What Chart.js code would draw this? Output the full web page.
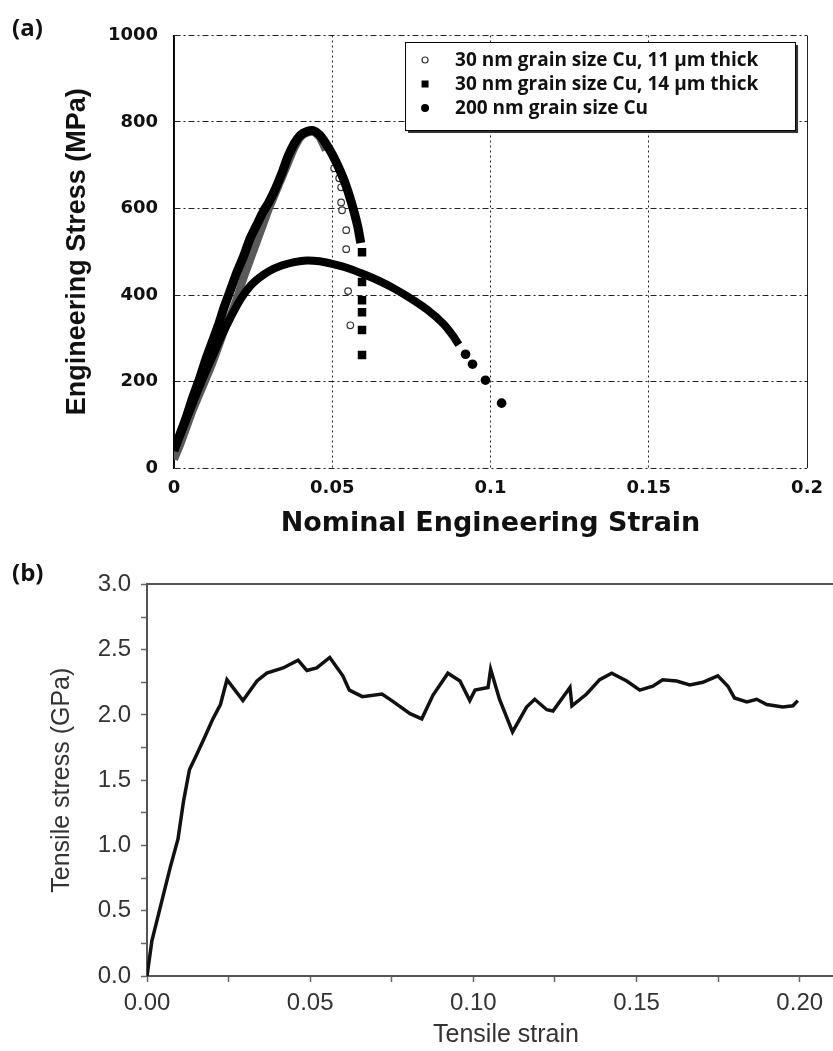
<!DOCTYPE html>
<html>
<head>
<meta charset="utf-8">
<script src="https://cdn.jsdelivr.net/npm/chart.js@4.4.1/dist/chart.umd.min.js"></script>
<style>
  body { margin: 0; background: #fff; width: 833px; height: 1051px; position: relative; overflow: hidden; }
  canvas { position: absolute; left: 0; }
  #chartA { top: 0; }
  #chartB { top: 560px; }
  .panel { position: absolute; font-family: "Open Sans", sans-serif; font-weight: 700; font-size: 24px; line-height: 1; color: #111; z-index: 2; }
</style>
</head>
<body>
<canvas id="chartA" width="833" height="545"></canvas>
<!-- panel (b) is cropped on the right in the original, so its canvas runs past the page edge -->
<canvas id="chartB" width="870" height="491"></canvas>
<div class="panel" style="left:12px;top:15px">(a)</div>
<div class="panel" style="left:12px;top:560px">(b)</div>
<script>
// ---- panel (a): engineering stress vs nominal strain ----
const seriesLabels = ['30 nm grain size Cu, 11 \u00b5m thick', '30 nm grain size Cu, 14 \u00b5m thick', '200 nm grain size Cu'];

const strain11 = [0, 0.002, 0.004, 0.006, 0.008, 0.010, 0.012, 0.014, 0.016, 0.018, 0.020, 0.022, 0.024, 0.026, 0.028, 0.030, 0.032, 0.034, 0.036, 0.038, 0.040, 0.042, 0.044, 0.046, 0.048,
                  0.0506, 0.0522, 0.0528, 0.0528, 0.0531, 0.0544, 0.0544, 0.0550, 0.0557];
const stress11 = [20, 55, 95, 135, 170, 205, 240, 280, 320, 355, 395, 440, 480, 520, 560, 600, 635, 670, 705, 740, 765, 775, 778, 765, 735,
                  693, 670, 649, 614, 596, 550, 506, 409, 330];
const lastDense11 = 24;

const strain14 = [0, 0.002, 0.004, 0.006, 0.008, 0.010, 0.012, 0.014, 0.016, 0.018, 0.020, 0.022, 0.024, 0.026, 0.028, 0.030, 0.032, 0.034, 0.036, 0.038, 0.040, 0.042, 0.044, 0.046, 0.048, 0.050, 0.052, 0.054, 0.056, 0.058, 0.059,
                  0.0594, 0.0594, 0.0594, 0.0594, 0.0594, 0.0594];
const stress14 = [40, 80, 120, 165, 205, 250, 290, 330, 375, 415, 455, 490, 530, 560, 590, 615, 645, 680, 720, 750, 770, 778, 780, 770, 750, 725, 695, 660, 615, 560, 520,
                  499, 430, 388, 360, 319, 261];
const lastDense14 = 30;

const strain200 = [0, 0.003, 0.006, 0.009, 0.012, 0.015, 0.018, 0.021, 0.024, 0.027, 0.030, 0.034, 0.038, 0.042, 0.046, 0.050, 0.055, 0.060, 0.065, 0.070, 0.075, 0.080, 0.085, 0.088, 0.090,
                   0.0921, 0.0943, 0.0984, 0.1035];
const stress200 = [40, 95, 150, 205, 255, 305, 350, 390, 420, 440, 455, 468, 476, 480, 478, 472, 462, 448, 432, 413, 391, 366, 334, 307, 285,
                   263, 240, 203, 150];
const lastDense200 = 24;

const aXTicks = [0, 0.05, 0.1, 0.15, 0.2];
const aYTicks = [0, 200, 400, 600, 800, 1000];

// ---- panel (b): tensile stress vs tensile strain ----
const bStrain = [0, 0.0015, 0.004, 0.0071, 0.0095, 0.0112, 0.013, 0.0153, 0.0175, 0.0202, 0.0225, 0.0245, 0.0294, 0.0337, 0.0367, 0.0417, 0.0463, 0.049, 0.052, 0.056,
                 0.060, 0.062, 0.066, 0.072, 0.075, 0.0806, 0.0842, 0.0876, 0.0922, 0.0959, 0.0989, 0.1005, 0.1045, 0.1053, 0.108, 0.112, 0.1163, 0.1188, 0.1225, 0.1244,
                 0.1296, 0.1302, 0.1347, 0.1387, 0.1424, 0.147, 0.151, 0.155, 0.158, 0.1623, 0.1663, 0.1703, 0.1749, 0.178, 0.180, 0.1838, 0.1868, 0.1899, 0.1948, 0.1979, 0.1994];
const bStress = [0, 0.27, 0.52, 0.83, 1.05, 1.34, 1.58, 1.70, 1.82, 1.97, 2.08, 2.27, 2.11, 2.26, 2.32, 2.36, 2.42, 2.34, 2.36, 2.44,
                 2.30, 2.19, 2.14, 2.16, 2.11, 2.01, 1.97, 2.15, 2.32, 2.26, 2.11, 2.19, 2.21, 2.35, 2.12, 1.87, 2.06, 2.12, 2.04, 2.03,
                 2.21, 2.07, 2.16, 2.27, 2.32, 2.26, 2.19, 2.22, 2.27, 2.26, 2.23, 2.25, 2.30, 2.22, 2.13, 2.10, 2.12, 2.08, 2.06, 2.07, 2.11];

const bXTicks = [0, 0.025, 0.05, 0.075, 0.1, 0.125, 0.15, 0.175, 0.2];
const bXLabels = [0, 0.05, 0.1, 0.15, 0.2];
const bYTicks = [0, 0.25, 0.5, 0.75, 1, 1.25, 1.5, 1.75, 2, 2.25, 2.5, 2.75, 3];
const bYLabels = [0, 0.5, 1, 1.5, 2, 2.5, 3];

const toPoints = (xs, ys) => xs.map((x, i) => ({ x: x, y: ys[i] }));
const hideAfter = n => c => c.p1DataIndex > n ? 'rgba(0,0,0,0)' : undefined;
const sizeAfter = (n, r) => c => c.dataIndex > n ? r : 0;
const isLabel = (list, v) => list.some(l => Math.abs(l - v) < 1e-9);

// legend drawn as a framed box inside the plot, like the original figure
const legendBox = {
    id: 'legendBox',
    afterDraw(chart) {
        const ctx = chart.ctx;
        const area = chart.chartArea;
        const w = 390, h = 88;
        const left = area.right - 12 - w, top = area.top + 6.5;
        ctx.save();
        ctx.fillStyle = '#333';
        ctx.fillRect(left + 3, top + 3, w, h);
        ctx.fillStyle = '#fff';
        ctx.fillRect(left, top, w, h);
        ctx.strokeStyle = '#000';
        ctx.lineWidth = 1;
        ctx.strokeRect(left + 0.5, top + 0.5, w, h);
        ctx.font = 'bold 19px "Open Sans", sans-serif';
        ctx.textBaseline = 'middle';
        chart.data.datasets.forEach((ds, i) => {
            const y = top + 18 + i * 24;
            const mx = left + 20;
            ctx.fillStyle = '#000';
            ctx.strokeStyle = '#333';
            ctx.lineWidth = 1.2;
            if (ds.pointStyle === 'rect') {
                ctx.fillRect(mx - 3.5, y - 3.5, 7, 7);
            } else if (ds.pointBackgroundColor === '#fff') {
                ctx.beginPath(); ctx.arc(mx, y, 3, 0, Math.PI * 2); ctx.stroke();
            } else {
                ctx.beginPath(); ctx.arc(mx, y, 4, 0, Math.PI * 2); ctx.fill();
            }
            ctx.fillStyle = '#111';
            ctx.fillText(ds.label, left + 50, y + 1);
        });
        ctx.restore();
    }
};

const ctxA = document.getElementById('chartA').getContext('2d');
new Chart(ctxA, {
    type: 'scatter',
    data: {
        datasets: [
            {
                label: seriesLabels[0],
                data: toPoints(strain11, stress11),
                showLine: true,
                borderColor: '#5a5a5a',
                borderWidth: 8,
                tension: 0.2,
                segment: { borderColor: hideAfter(lastDense11) },
                pointStyle: 'circle',
                pointRadius: sizeAfter(lastDense11, 3.3),
                pointBackgroundColor: '#fff',
                pointBorderColor: '#333',
                pointBorderWidth: 1.2,
                order: 3
            },
            {
                label: seriesLabels[1],
                data: toPoints(strain14, stress14),
                showLine: true,
                borderColor: '#000',
                borderWidth: 9,
                tension: 0.2,
                segment: { borderColor: hideAfter(lastDense14) },
                pointStyle: 'rect',
                pointRadius: sizeAfter(lastDense14, 6),
                pointBackgroundColor: '#000',
                pointBorderColor: '#000',
                pointBorderWidth: 0,
                order: 1
            },
            {
                label: seriesLabels[2],
                data: toPoints(strain200, stress200),
                showLine: true,
                borderColor: '#000',
                borderWidth: 8,
                tension: 0.3,
                segment: { borderColor: hideAfter(lastDense200) },
                pointStyle: 'circle',
                pointRadius: sizeAfter(lastDense200, 4.8),
                pointBackgroundColor: '#000',
                pointBorderColor: '#000',
                pointBorderWidth: 0,
                order: 2
            }
        ]
    },
    options: {
        responsive: false,
        animation: false,
        layout: { padding: { top: 35.5, right: 23, left: 0, bottom: 0 } },
        plugins: { legend: { display: false }, tooltip: { enabled: false } },
        scales: {
            x: {
                type: 'linear',
                min: 0,
                max: 0.2,
                afterBuildTicks: s => { s.ticks = aXTicks.map(v => ({ value: v })); },
                afterFit: s => { s.height = 77; },
                grid: { color: '#222', lineWidth: 1, drawTicks: false },
                border: {
                    display: false,
                    dash: c => (c.tick && (c.tick.value === 0 || c.tick.value === 0.2)) ? [] : [2, 3]
                },
                ticks: {
                    padding: 10,
                    color: '#111',
                    font: { family: '"DejaVu Sans", sans-serif', weight: 'bold', size: 18 },
                    callback: v => String(v)
                },
                title: {
                    display: true,
                    text: 'Nominal Engineering Strain',
                    color: '#111',
                    padding: { top: 0, bottom: 5 },
                    font: { family: '"DejaVu Sans", sans-serif', weight: 'bold', size: 27 }
                }
            },
            y: {
                min: 0,
                max: 1000,
                afterBuildTicks: s => { s.ticks = aYTicks.map(v => ({ value: v })); },
                afterFit: s => { s.width = 174; },
                grid: { color: '#222', lineWidth: 1, drawTicks: false },
                border: { display: true, color: '#000', width: 1.5, dash: [6, 3, 2, 3] },
                ticks: {
                    padding: 16,
                    color: '#111',
                    font: { family: '"DejaVu Sans", sans-serif', weight: 'bold', size: 18 },
                    callback: v => String(v)
                },
                title: {
                    display: true,
                    text: 'Engineering Stress (MPa)',
                    color: '#111',
                    padding: { top: 61, bottom: 0 },
                    font: { family: '"Liberation Sans", Arial, sans-serif', weight: 'bold', size: 27 }
                }
            }
        }
    },
    plugins: [legendBox]
});

const ctxB = document.getElementById('chartB').getContext('2d');
new Chart(ctxB, {
    type: 'scatter',
    data: {
        datasets: [{
            label: 'Tensile stress',
            data: toPoints(bStrain, bStress),
            showLine: true,
            borderColor: '#111',
            borderWidth: 3.5,
            tension: 0,
            pointRadius: 0
        }]
    },
    options: {
        responsive: false,
        animation: false,
        layout: { padding: { top: 21, right: 5, left: 0, bottom: 0 } },
        plugins: { legend: { display: false }, tooltip: { enabled: false } },
        scales: {
            x: {
                type: 'linear',
                min: 0,
                max: 0.22,
                afterBuildTicks: s => { s.ticks = bXTicks.map(v => ({ value: v })); },
                afterFit: s => { s.height = 75; },
                grid: { drawOnChartArea: false, drawTicks: true, tickLength: 6, tickColor: '#666', tickWidth: 1.5 },
                border: { color: '#555', width: 2 },
                ticks: {
                    padding: 7,
                    color: '#333',
                    autoSkip: false,
                    maxRotation: 0,
                    font: { family: '"Liberation Sans", Arial, sans-serif', size: 24 },
                    callback: v => isLabel(bXLabels, v) ? v.toFixed(2) : ''
                },
                title: {
                    display: true,
                    text: 'Tensile strain',
                    color: '#333',
                    padding: { top: 0, bottom: 1 },
                    font: { family: '"Liberation Sans", Arial, sans-serif', size: 25 }
                }
            },
            xTop: {
                type: 'linear',
                position: 'top',
                min: 0,
                max: 0.22,
                afterFit: s => { s.height = 0; },
                grid: { drawOnChartArea: false, drawTicks: false },
                border: { color: '#555', width: 2 },
                ticks: { display: false }
            },
            y: {
                min: 0,
                max: 3,
                afterBuildTicks: s => { s.ticks = bYTicks.map(v => ({ value: v })); },
                afterFit: s => { s.width = 147; },
                grid: { drawOnChartArea: false, drawTicks: true, tickLength: 6, tickColor: '#666', tickWidth: 1.5 },
                border: { color: '#555', width: 2 },
                ticks: {
                    padding: 10,
                    color: '#333',
                    autoSkip: false,
                    font: { family: '"Liberation Sans", Arial, sans-serif', size: 24 },
                    callback: v => isLabel(bYLabels, v) ? v.toFixed(1) : ''
                },
                title: {
                    display: true,
                    text: 'Tensile stress (GPa)',
                    color: '#333',
                    padding: { top: 47, bottom: 0 },
                    font: { family: '"Liberation Sans", Arial, sans-serif', size: 25 }
                }
            }
        }
    }
});
</script>
</body>
</html>
